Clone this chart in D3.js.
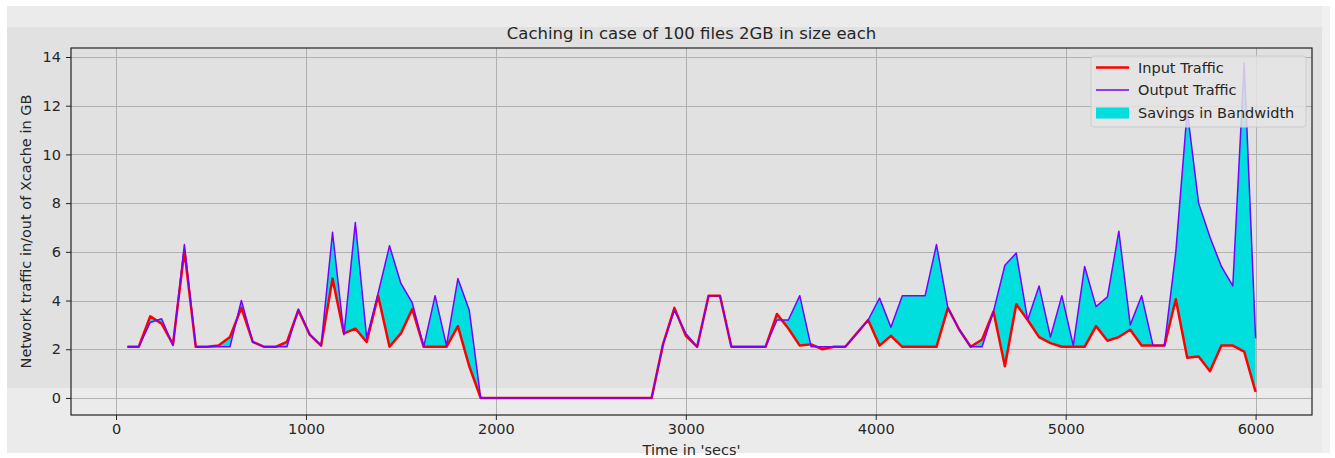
<!DOCTYPE html>
<html>
<head>
<meta charset="utf-8">
<script src="https://cdn.jsdelivr.net/npm/d3@7"></script>
<style>
  html, body { margin: 0; padding: 0; background: #ffffff; }
  svg { display: block; font-family: "DejaVu Sans", sans-serif; }
</style>
</head>
<body>
<svg id="chart" width="1335" height="458"></svg>
<script>
// time stamps (secs)
const times = [
    60, 120, 180, 240, 300, 360, 420, 480, 540, 600,
    660, 720, 780, 840, 900, 960, 1020, 1080, 1140, 1200,
    1260, 1320, 1380, 1440, 1500, 1560, 1620, 1680, 1740, 1800,
    1860, 1920, 1980, 2040, 2100, 2160, 2220, 2280, 2340, 2400,
    2460, 2520, 2580, 2640, 2700, 2760, 2820, 2880, 2940, 3000,
    3060, 3120, 3180, 3240, 3300, 3360, 3420, 3480, 3540, 3600,
    3660, 3720, 3780, 3840, 3900, 3960, 4020, 4080, 4140, 4200,
    4260, 4320, 4380, 4440, 4500, 4560, 4620, 4680, 4740, 4800,
    4860, 4920, 4980, 5040, 5100, 5160, 5220, 5280, 5340, 5400,
    5460, 5520, 5580, 5640, 5700, 5760, 5820, 5880, 5940, 6000
];

// traffic into Xcache (GB)
const inputTraffic = [
    2.1, 2.1, 3.35, 3.05, 2.2, 6.05, 2.1, 2.1, 2.15, 2.5,
    3.7, 2.3, 2.1, 2.1, 2.3, 3.6, 2.6, 2.15, 4.9, 2.65,
    2.85, 2.3, 4.2, 2.1, 2.65, 3.65, 2.1, 2.1, 2.1, 2.95,
    1.3, 0, 0, 0, 0, 0, 0, 0, 0, 0,
    0, 0, 0, 0, 0, 0, 0, 2.2, 3.7, 2.55,
    2.1, 4.2, 4.2, 2.1, 2.1, 2.1, 2.1, 3.45, 2.85, 2.15,
    2.2, 2.0, 2.1, 2.1, 2.65, 3.2, 2.15, 2.55, 2.1, 2.1,
    2.1, 2.1, 3.7, 2.8, 2.1, 2.4, 3.55, 1.3, 3.85, 3.2,
    2.5, 2.25, 2.1, 2.1, 2.1, 2.95, 2.35, 2.5, 2.8, 2.15,
    2.15, 2.15, 4.05, 1.65, 1.7, 1.1, 2.15, 2.15, 1.9, 0.25
];

// traffic out of Xcache (GB)
const outputTraffic = [
    2.1, 2.1, 3.1, 3.25, 2.15, 6.3, 2.1, 2.1, 2.1, 2.1,
    4.0, 2.3, 2.1, 2.1, 2.1, 3.65, 2.6, 2.15, 6.8, 2.6,
    7.2, 2.45, 4.3, 6.25, 4.7, 3.9, 2.1, 4.2, 2.15, 4.9,
    3.6, 0, 0, 0, 0, 0, 0, 0, 0, 0,
    0, 0, 0, 0, 0, 0, 0, 2.2, 3.6, 2.65,
    2.1, 4.2, 4.2, 2.1, 2.1, 2.1, 2.1, 3.2, 3.2, 4.2,
    2.1, 2.1, 2.1, 2.1, 2.65, 3.2, 4.1, 2.9, 4.2, 4.2,
    4.2, 6.3, 3.7, 2.8, 2.1, 2.1, 3.55, 5.45, 5.95, 3.2,
    4.6, 2.5, 4.2, 2.15, 5.4, 3.75, 4.15, 6.85, 3.0, 4.2,
    2.15, 2.15, 6.0, 11.8, 8.0, 6.6, 5.4, 4.6, 13.75, 2.45
];

const xTicks = [0, 1000, 2000, 3000, 4000, 5000, 6000];
const yTicks = [0, 2, 4, 6, 8, 10, 12, 14];

const legendItems = [
    { label: "Input Traffic", kind: "line", color: "#ff0000", width: 2.5 },
    { label: "Output Traffic", kind: "line", color: "#7a00ff", width: 1.5 },
    { label: "Savings in Bandwidth", kind: "patch", color: "#00dede" }
];

const frame = { left: 71, right: 1312, top: 48, bottom: 415 };
const textColor = "#262626";

const svg = d3.select("#chart");

// screenshot backdrop
svg.append("rect").attr("x", 7).attr("y", 6).attr("width", 1321).attr("height", 447).attr("fill", "#ebebeb");
svg.append("rect").attr("x", 1322).attr("y", 6).attr("width", 8).attr("height", 447).attr("fill", "#f0f0f0");
svg.append("rect").attr("x", 7).attr("y", 27).attr("width", 1315).attr("height", 361).attr("fill", "#e1e1e1");

const x = d3.scaleLinear().domain([-237, 6297]).range([frame.left, frame.right]);
const y = d3.scaleLinear().domain([-0.7, 14.37]).range([frame.bottom, frame.top]);

const rows = times.map((t, i) => ({ t, inp: inputTraffic[i], out: outputTraffic[i] }));

// grid
const grid = svg.append("g").attr("stroke", "#b0b0b0").attr("stroke-width", 1);
grid.selectAll(".gx").data(xTicks).enter().append("line")
    .attr("x1", d => Math.round(x(d)) + 0.5).attr("x2", d => Math.round(x(d)) + 0.5)
    .attr("y1", frame.top).attr("y2", frame.bottom);
grid.selectAll(".gy").data(yTicks).enter().append("line")
    .attr("y1", d => Math.round(y(d)) + 0.5).attr("y2", d => Math.round(y(d)) + 0.5)
    .attr("x1", frame.left).attr("x2", frame.right);

// savings area between the two series
const area = d3.area()
    .x(d => x(d.t))
    .y0(d => y(d.inp))
    .y1(d => y(d.out));
svg.append("path").datum(rows).attr("d", area).attr("fill", "#00dede");

const inLine = d3.line().x(d => x(d.t)).y(d => y(d.inp));
const outLine = d3.line().x(d => x(d.t)).y(d => y(d.out));

svg.append("path").datum(rows).attr("d", inLine)
    .attr("fill", "none").attr("stroke", "#ff0000").attr("stroke-width", 2.5)
    .attr("stroke-linejoin", "round");
svg.append("path").datum(rows).attr("d", outLine)
    .attr("fill", "none").attr("stroke", "#7a00ff").attr("stroke-width", 1.5)
    .attr("stroke-linejoin", "round");

// axes
const xAxis = svg.append("g").attr("transform", `translate(0,${frame.bottom})`)
    .call(d3.axisBottom(x).tickValues(xTicks).tickFormat(d3.format("d"))
        .tickSizeOuter(0).tickSize(5).tickPadding(4));
const yAxis = svg.append("g").attr("transform", `translate(${frame.left},0)`)
    .call(d3.axisLeft(y).tickValues(yTicks).tickFormat(d3.format("d"))
        .tickSizeOuter(0).tickSize(5).tickPadding(5));
[xAxis, yAxis].forEach(a => {
    a.select(".domain").remove();
    a.selectAll("line").attr("stroke", "#222");
    a.selectAll("text").attr("fill", textColor).style("font-size", "14.5px")
        .style("font-family", "DejaVu Sans, sans-serif");
});

// frame
svg.append("rect")
    .attr("x", frame.left).attr("y", frame.top)
    .attr("width", frame.right - frame.left).attr("height", frame.bottom - frame.top)
    .attr("fill", "none").attr("stroke", "#222").attr("stroke-width", 1.2);

// titles
svg.append("text").attr("x", (frame.left + frame.right) / 2).attr("y", 39)
    .attr("text-anchor", "middle").attr("fill", textColor).style("font-size", "16.5px")
    .text("Caching in case of 100 files 2GB in size each");
svg.append("text").attr("x", (frame.left + frame.right) / 2).attr("y", 455)
    .attr("text-anchor", "middle").attr("fill", textColor).style("font-size", "14.5px")
    .text("Time in 'secs'");
svg.append("text").attr("transform", `translate(31,${(frame.top + frame.bottom) / 2}) rotate(-90)`)
    .attr("text-anchor", "middle").attr("fill", textColor).style("font-size", "14.5px")
    .text("Network traffic in/out of Xcache in GB");

// legend
const legend = svg.append("g").attr("transform", "translate(1091,56)");
legend.append("rect").attr("width", 215).attr("height", 71).attr("rx", 3)
    .attr("fill", "#e4e4e4").attr("fill-opacity", 0.85).attr("stroke", "#cccccc");
const entry = legend.selectAll(".entry").data(legendItems).enter().append("g")
    .attr("transform", (d, i) => `translate(0,${11.5 + i * 22.5})`);
entry.filter(d => d.kind === "line").append("line")
    .attr("x1", 5).attr("x2", 38).attr("y1", 0).attr("y2", 0)
    .attr("stroke", d => d.color).attr("stroke-width", d => d.width);
entry.filter(d => d.kind === "patch").append("rect")
    .attr("x", 5).attr("y", -5).attr("width", 33).attr("height", 11).attr("fill", d => d.color);
entry.append("text").attr("x", 47).attr("y", 5).attr("fill", textColor)
    .style("font-size", "14.5px").text(d => d.label);
</script>
</body>
</html>
